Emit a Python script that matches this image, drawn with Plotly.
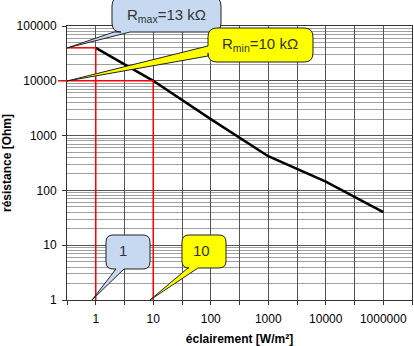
import plotly.graph_objects as go

# Light-dependent resistor: resistance vs illuminance
illuminance = [1, 10, 100, 1000, 10000, 100000]
resistance = [40000, 10000, 2000, 420, 145, 40]

x_tick_vals = [10 ** (k / 2) for k in range(-1, 12)]
x_tick_text = ["", "1", "", "10", "", "100", "", "1000", "", "10000", "", "1000000", ""]
y_tick_vals = [1, 10, 100, 1000, 10000, 100000]
y_tick_text = ["1", "10", "100", "1000", "10000", "100000"]
y_minor_vals = [m * 10 ** d for d in range(0, 5) for m in range(2, 10)]

r_max_point = (1, 40000)
r_min_point = (10, 10000)

W, H = 414, 346
L, R, T, B = 67, 2, 26, 46
PW, PH = W - L - R, H - T - B


def to_paper(px, py):
    return (px - L) / PW, (H - B - py) / PH


def callout_path(x0, y0, x1, y1, r, tip, side, a, b):
    """Rounded box with a pointer; coordinates in pixels, returned in paper units."""
    pts = []
    pts.append(("M", [(x0 + r, y0)]))
    pts.append(("L", [(x1 - r, y0)]))
    pts.append(("Q", [(x1, y0), (x1, y0 + r)]))
    pts.append(("L", [(x1, y1 - r)]))
    pts.append(("Q", [(x1, y1), (x1 - r, y1)]))
    if side == "bottom":
        pts.append(("L", [(b, y1)]))
        pts.append(("L", [tip]))
        pts.append(("L", [(a, y1)]))
    pts.append(("L", [(x0 + r, y1)]))
    pts.append(("Q", [(x0, y1), (x0, y1 - r)]))
    if side == "left":
        pts.append(("L", [(x0, b)]))
        pts.append(("L", [tip]))
        pts.append(("L", [(x0, a)]))
    pts.append(("L", [(x0, y0 + r)]))
    pts.append(("Q", [(x0, y0), (x0 + r, y0)]))
    out = []
    for cmd, ps in pts:
        coords = " ".join("%.5f,%.5f" % to_paper(px, py) for px, py in ps)
        out.append(cmd + " " + coords)
    return " ".join(out) + " Z"


fig = go.Figure()
fig.add_trace(go.Scatter(
    x=illuminance, y=resistance, mode="lines",
    line=dict(color="black", width=2.5), showlegend=False,
))

red = dict(color="#ff0000", width=1.5)
shapes = [
    dict(type="line", xref="x", yref="y", x0=10 ** -0.5, x1=r_max_point[0],
         y0=r_max_point[1], y1=r_max_point[1], line=red),
    dict(type="line", xref="x", yref="y", x0=r_max_point[0], x1=r_max_point[0],
         y0=1, y1=r_max_point[1], line=red),
    dict(type="line", xref="paper", yref="y", x0=-9 / PW, x1=0,
         y0=r_min_point[1], y1=r_min_point[1], line=red),
    dict(type="line", xref="x", yref="y", x0=10 ** -0.5, x1=r_min_point[0],
         y0=r_min_point[1], y1=r_min_point[1], line=red),
    dict(type="line", xref="x", yref="y", x0=r_min_point[0], x1=r_min_point[0],
         y0=1, y1=r_min_point[1], line=red),
]

blue_fill = "#c6d9f1"
yellow_fill = "#ffff00"
edge = dict(color="#222222", width=1)
shapes += [
    dict(type="path", xref="paper", yref="paper", fillcolor=blue_fill, line=edge,
         path=callout_path(112, -3, 221, 32, 9, (67, 48), "bottom", 114, 130)),
    dict(type="path", xref="paper", yref="paper", fillcolor=yellow_fill, line=edge,
         path=callout_path(208, 28, 313, 62, 9, (67, 81), "left", 46, 56)),
    dict(type="path", xref="paper", yref="paper", fillcolor=blue_fill, line=edge,
         path=callout_path(106, 235, 150, 269, 7, (92, 300), "bottom", 116, 124)),
    dict(type="path", xref="paper", yref="paper", fillcolor=yellow_fill, line=edge,
         path=callout_path(182, 235, 226, 268, 7, (150, 300), "bottom", 188, 198)),
]

labels = [
    ("R<sub>max</sub>=13 kΩ", 166, 16),
    ("R<sub>min</sub>=10 kΩ", 260, 45),
    ("1", 123, 250),
    ("10", 201, 250),
]
annotations = []
for text, px, py in labels:
    xp, yp = to_paper(px, py)
    annotations.append(dict(
        text=text, x=xp, y=yp, xref="paper", yref="paper", showarrow=False,
        xanchor="center", yanchor="middle",
        font=dict(family="Liberation Sans, Arial", size=15, color="#333333"),
    ))

grid_major = "#555555"
fig.update_layout(
    width=W, height=H,
    margin=dict(l=L, r=R, t=T, b=B),
    paper_bgcolor="white", plot_bgcolor="white",
    font=dict(family="Liberation Sans, Arial", size=12, color="black"),
    shapes=shapes, annotations=annotations,
    xaxis=dict(
        type="log", range=[-0.5, 5.5],
        tickmode="array", tickvals=x_tick_vals, ticktext=x_tick_text,
        showgrid=True, gridcolor=grid_major, gridwidth=1,
        ticks="outside", ticklen=4, tickcolor="#333333",
        showline=True, linecolor="#333333", mirror=True,
        zeroline=False, ticklabelstandoff=4,
        tickfont=dict(size=12, family="Liberation Sans, Arial"),
        title=dict(text="<b>éclairement [W/m²]</b>", font=dict(size=12), standoff=10),
    ),
    yaxis=dict(
        type="log", range=[0, 5],
        tickmode="array", tickvals=y_tick_vals, ticktext=y_tick_text,
        showgrid=True, gridcolor=grid_major, gridwidth=1,
        minor=dict(tickmode="array", tickvals=y_minor_vals, showgrid=True,
                   gridcolor="#a0a0a0", gridwidth=1),
        ticks="outside", ticklen=4, tickcolor="#333333",
        showline=True, linecolor="#333333", mirror=True,
        zeroline=False, ticklabelstandoff=3,
        tickfont=dict(size=12, family="Liberation Sans, Arial"),
        title=dict(text="<b>résistance [Ohm]</b>", font=dict(size=12), standoff=4),
    ),
)

fig.write_html("out.html")
